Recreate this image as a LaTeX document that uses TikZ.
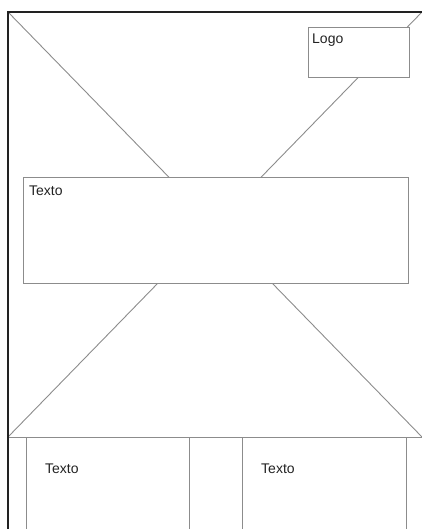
\documentclass[tikz,border=0pt]{standalone}
\usepackage{fontspec}
\setmainfont{Liberation Sans}
\definecolor{linegray}{HTML}{8C8C8C}
\definecolor{framecol}{HTML}{222222}
\definecolor{txtcol}{HTML}{222222}
\begin{document}
\begin{tikzpicture}[x=1pt,y=-1pt,
  diag/.style={draw=linegray, line width=0.9pt},
  box/.style={draw=linegray, fill=white, line width=0.9pt, inner sep=0pt, outer sep=0pt, anchor=north west},
  frameline/.style={draw=framecol, line width=1.3pt},
  lbl/.style={anchor=base west, inner sep=0pt, text=txtcol, font=\fontsize{14}{16}\selectfont}]
\useasboundingbox (0,0) rectangle (422,529);
\clip (0,0) rectangle (422,529);
\coordinate (tl) at (8,12);
\coordinate (tr) at (422,12);
\coordinate (bl) at (8,437);
\coordinate (br) at (422,437);
\coordinate (lowend) at (8,529);
% big cross
\draw[diag] (tl) -- (br);
\draw[diag] (tr) -- (bl);
% logo box
\node[box, minimum width=101pt, minimum height=50pt] (logo) at (308,27) {};
% middle text box
\node[box, minimum width=385pt, minimum height=106pt] (mid) at (23,177) {};
% base line
\draw[diag] (bl) -- (br);
% bottom boxes
\node[box, minimum width=163pt, minimum height=110pt] (boxl) at (26,437) {};
\node[box, minimum width=164pt, minimum height=110pt] (boxr) at (242,437) {};
% frame
\draw[frameline] (lowend) -- (tl) -- (tr);
% labels
\node[lbl] (logotxt) at (312,44) {Logo};
\node[lbl] (midtxt) at (29,196) {Texto};
\node[lbl] (ltxt) at (45,473) {Texto};
\node[lbl] (rtxt) at (261,473) {Texto};
\end{tikzpicture}
\end{document}
